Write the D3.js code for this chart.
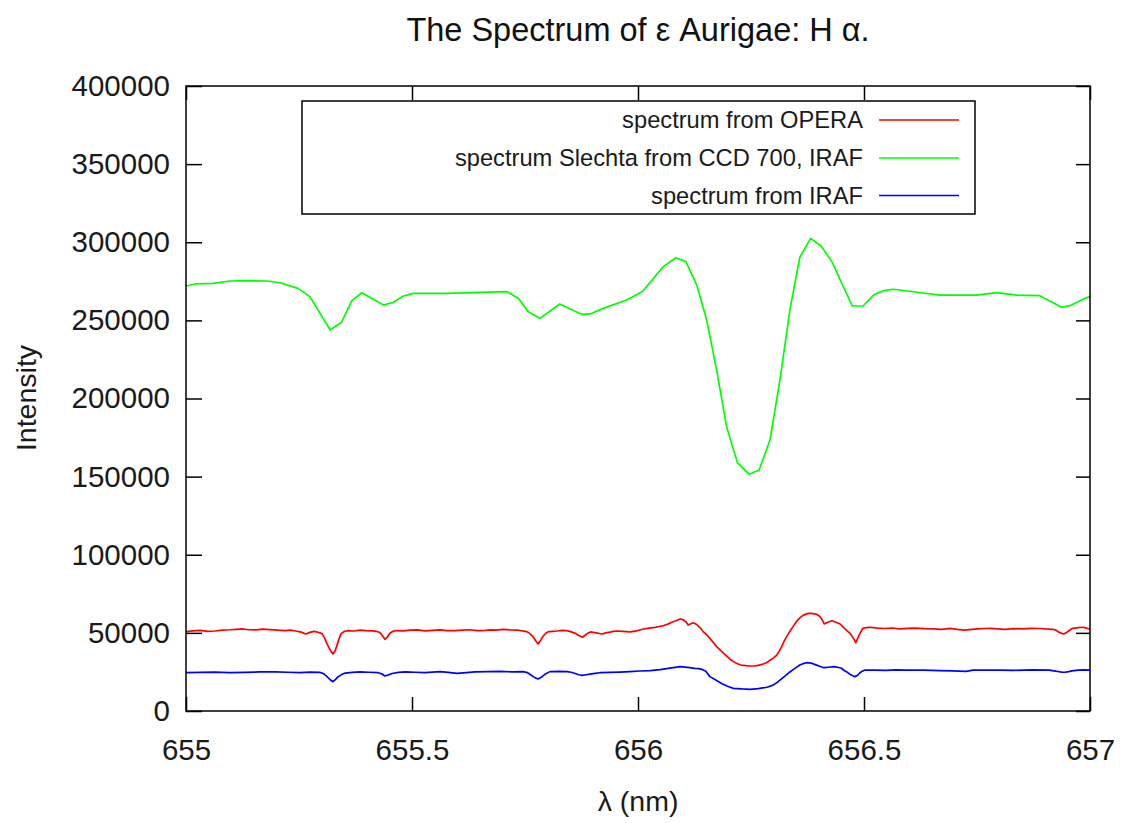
<!DOCTYPE html>
<html>
<head>
<meta charset="utf-8">
<script src="https://cdn.jsdelivr.net/npm/d3@7"></script>
<style>
  html, body { margin: 0; padding: 0; background: #fff; }
  svg { display: block; font-family: "Liberation Sans", Arial, sans-serif; }
</style>
</head>
<body>
<svg id="chart" width="1123" height="823"></svg>
<script>
// ---------------- data ----------------
const chartTitle = "The Spectrum of \u03b5 Aurigae: H \u03b1.";
const xLabel = "\u03bb (nm)";
const yLabel = "Intensity";

const xTicks = [655, 655.5, 656, 656.5, 657];
const xTickLabels = ["655", "655.5", "656", "656.5", "657"];
const yTicks = [0, 50000, 100000, 150000, 200000, 250000, 300000, 350000, 400000];
const yTickLabels = ["0", "50000", "100000", "150000", "200000", "250000", "300000", "350000", "400000"];

const seriesNames = ["spectrum from OPERA", "spectrum Slechta from CCD 700, IRAF", "spectrum from IRAF"];
const seriesColors = ["#ff0000", "#00ff00", "#0000ff"];

// spectrum from OPERA (red)
const operaLambda = [655.000, 655.015, 655.031, 655.048, 655.064, 655.080, 655.097, 655.112, 655.126, 655.140, 655.155, 655.170, 655.186, 655.203, 655.219, 655.232, 655.243, 655.255, 655.265, 655.274, 655.283, 655.292, 655.301, 655.307, 655.312, 655.319, 655.325, 655.330, 655.334, 655.339, 655.343, 655.350, 655.358, 655.371, 655.385, 655.398, 655.412, 655.421, 655.429, 655.435, 655.440, 655.446, 655.451, 655.458, 655.465, 655.480, 655.496, 655.512, 655.529, 655.545, 655.562, 655.578, 655.595, 655.612, 655.628, 655.645, 655.662, 655.674, 655.686, 655.701, 655.717, 655.735, 655.754, 655.761, 655.768, 655.774, 655.779, 655.785, 655.790, 655.796, 655.802, 655.812, 655.821, 655.832, 655.842, 655.851, 655.861, 655.869, 655.877, 655.883, 655.889, 655.895, 655.901, 655.910, 655.920, 655.929, 655.938, 655.945, 655.953, 655.967, 655.982, 655.997, 656.012, 656.025, 656.038, 656.047, 656.056, 656.066, 656.075, 656.084, 656.093, 656.098, 656.102, 656.107, 656.111, 656.117, 656.122, 656.128, 656.133, 656.139, 656.144, 656.152, 656.159, 656.167, 656.174, 656.185, 656.195, 656.203, 656.211, 656.220, 656.228, 656.238, 656.248, 656.256, 656.263, 656.270, 656.277, 656.285, 656.292, 656.300, 656.307, 656.313, 656.319, 656.324, 656.329, 656.336, 656.343, 656.350, 656.358, 656.365, 656.372, 656.377, 656.381, 656.388, 656.395, 656.400, 656.405, 656.409, 656.412, 656.420, 656.429, 656.438, 656.447, 656.452, 656.458, 656.464, 656.469, 656.476, 656.482, 656.486, 656.491, 656.495, 656.498, 656.505, 656.513, 656.530, 656.546, 656.563, 656.580, 656.597, 656.613, 656.633, 656.653, 656.672, 656.690, 656.706, 656.723, 656.738, 656.752, 656.766, 656.779, 656.796, 656.812, 656.832, 656.852, 656.870, 656.889, 656.903, 656.918, 656.924, 656.929, 656.936, 656.942, 656.948, 656.954, 656.958, 656.962, 656.974, 656.985, 656.993, 657.000];
const operaIntensity = [50800, 51300, 51600, 51000, 51200, 51800, 52000, 52300, 52500, 52000, 51900, 52400, 52100, 51700, 51500, 51800, 51200, 50500, 49300, 50300, 51000, 50400, 49500, 46500, 43000, 39000, 36500, 38500, 42000, 46500, 49500, 50900, 51400, 51200, 51800, 51500, 51300, 51000, 50200, 48000, 45900, 47500, 49800, 51000, 51500, 51300, 51700, 51900, 51300, 51600, 51900, 51400, 51500, 51800, 52000, 51500, 51600, 51900, 51800, 52200, 51900, 51700, 50800, 49500, 47500, 44800, 42900, 45500, 47800, 49800, 50800, 51000, 51200, 51600, 51400, 50800, 49700, 48300, 47200, 48500, 49800, 50600, 50300, 49800, 49300, 50000, 50500, 51000, 51200, 50900, 50600, 51300, 52500, 53000, 53500, 54100, 54600, 55600, 56800, 57800, 58900, 58600, 58000, 56800, 55000, 55800, 56500, 55700, 54500, 52800, 50800, 48800, 46500, 43700, 41200, 38200, 35500, 33300, 31600, 30200, 29400, 29000, 28800, 28800, 29000, 29500, 30100, 31000, 32500, 34000, 35800, 38500, 42000, 45000, 47600, 51000, 54000, 57000, 59600, 61200, 62000, 62500, 62500, 62300, 61900, 61000, 59500, 57500, 55700, 56800, 57800, 56800, 55700, 54300, 52500, 51000, 49700, 46800, 43700, 46500, 49500, 51800, 53000, 53400, 53600, 53000, 52800, 53100, 52500, 52900, 53100, 52700, 52500, 52300, 52900, 52200, 51800, 52300, 52600, 52800, 52900, 52600, 52300, 52700, 52500, 52900, 52800, 52500, 52300, 51800, 50800, 49800, 49300, 50200, 51500, 52400, 52900, 53300, 53600, 53000, 52300];

// spectrum Slechta from CCD 700, IRAF (green)
const slechtaLambda = [655.000, 655.020, 655.060, 655.097, 655.134, 655.179, 655.208, 655.248, 655.274, 655.319, 655.344, 655.367, 655.389, 655.437, 655.459, 655.481, 655.503, 655.577, 655.710, 655.735, 655.757, 655.783, 655.827, 655.875, 655.894, 655.923, 655.975, 656.010, 656.056, 656.084, 656.106, 656.130, 656.152, 656.174, 656.196, 656.220, 656.246, 656.268, 656.292, 656.314, 656.336, 656.358, 656.382, 656.405, 656.429, 656.474, 656.498, 656.521, 656.543, 656.565, 656.617, 656.668, 656.749, 656.794, 656.838, 656.889, 656.937, 656.956, 656.989, 657.000];
const slechtaIntensity = [272000, 273300, 273700, 275200, 275400, 275200, 274100, 270500, 265200, 243800, 248800, 262600, 267700, 259800, 261600, 265600, 267300, 267300, 268400, 264100, 255600, 251300, 260500, 253900, 254100, 257700, 263000, 268500, 284400, 290100, 287600, 272600, 250200, 218200, 182000, 158900, 151500, 154200, 173400, 211800, 256600, 290400, 302500, 297600, 287600, 259200, 259200, 266200, 269000, 269900, 268000, 266200, 266200, 267700, 266200, 265800, 258400, 259400, 264100, 265200];

// spectrum from IRAF (blue)
const irafLambda = [655.000, 655.032, 655.064, 655.097, 655.130, 655.163, 655.197, 655.225, 655.252, 655.275, 655.296, 655.305, 655.312, 655.319, 655.325, 655.331, 655.336, 655.344, 655.352, 655.368, 655.385, 655.405, 655.425, 655.433, 655.440, 655.448, 655.456, 655.470, 655.485, 655.507, 655.529, 655.545, 655.562, 655.580, 655.600, 655.620, 655.639, 655.667, 655.695, 655.720, 655.746, 655.755, 655.763, 655.771, 655.779, 655.787, 655.794, 655.805, 655.824, 655.843, 655.852, 655.861, 655.869, 655.877, 655.885, 655.894, 655.905, 655.916, 655.938, 655.960, 655.982, 656.004, 656.027, 656.049, 656.071, 656.093, 656.110, 656.126, 656.134, 656.142, 656.150, 656.159, 656.172, 656.186, 656.198, 656.211, 656.230, 656.248, 656.266, 656.285, 656.293, 656.301, 656.308, 656.314, 656.325, 656.336, 656.347, 656.358, 656.365, 656.373, 656.383, 656.392, 656.402, 656.411, 656.422, 656.434, 656.441, 656.449, 656.458, 656.464, 656.469, 656.475, 656.480, 656.486, 656.491, 656.496, 656.502, 656.525, 656.548, 656.571, 656.594, 656.631, 656.668, 656.697, 656.726, 656.741, 656.770, 656.800, 656.830, 656.870, 656.910, 656.920, 656.929, 656.937, 656.945, 656.953, 656.960, 656.974, 656.987, 657.000];
const irafIntensity = [24500, 24700, 24900, 24600, 24700, 25000, 25000, 24800, 24600, 24900, 24700, 23800, 22000, 20000, 18750, 20200, 21800, 23300, 24300, 24700, 25000, 24800, 24500, 23800, 22400, 23100, 24000, 24700, 25100, 24800, 24500, 24900, 25200, 24700, 24100, 24600, 25000, 25200, 25300, 25100, 25200, 24600, 23000, 21500, 20500, 21800, 23500, 25200, 25400, 25200, 24800, 24000, 23200, 22800, 23200, 23600, 24100, 24500, 24700, 24900, 25200, 25600, 25900, 26500, 27400, 28400, 27900, 27300, 27100, 26600, 25500, 22000, 19800, 17500, 15800, 14500, 14100, 13900, 14300, 15200, 15900, 17000, 18300, 19800, 22300, 25000, 27300, 29400, 30300, 30900, 30700, 29700, 28600, 27700, 28000, 28400, 28000, 27500, 25600, 24600, 23500, 22600, 22000, 22900, 24500, 25400, 26200, 26200, 26000, 26300, 26200, 26100, 25900, 25700, 25400, 26200, 26100, 26200, 26000, 26300, 26200, 25700, 25300, 24900, 24800, 25200, 25700, 26200, 26300, 26200];

// ---------------- layout ----------------
const W = 1123, H = 823;
const margin = { left: 186, right: W - 1090, top: 86, bottom: H - 711 };

const svg = d3.select("#chart");
const x = d3.scaleLinear().domain([655, 657]).range([margin.left, W - margin.right]);
const y = d3.scaleLinear().domain([0, 400000]).range([H - margin.bottom, margin.top]);

const tickFont = 29.5;

// Ticks (inward, mirrored)
const gAxes = svg.append("g");
gAxes.append("g")
  .attr("transform", `translate(0,${y(0)})`)
  .call(d3.axisBottom(x).tickValues(xTicks).tickSizeInner(-14).tickSizeOuter(0).tickPadding(28)
        .tickFormat((d, i) => xTickLabels[i]))
  .call(g => g.select(".domain").remove());
gAxes.append("g")
  .attr("transform", `translate(0,${y(400000)})`)
  .call(d3.axisTop(x).tickValues(xTicks).tickSizeInner(-14).tickSizeOuter(0).tickFormat(""))
  .call(g => g.select(".domain").remove());
gAxes.append("g")
  .attr("transform", `translate(${x(655)},0)`)
  .call(d3.axisLeft(y).tickValues(yTicks).tickSizeInner(-16).tickSizeOuter(0).tickPadding(16)
        .tickFormat((d, i) => yTickLabels[i]))
  .call(g => g.select(".domain").remove());
gAxes.append("g")
  .attr("transform", `translate(${x(657)},0)`)
  .call(d3.axisRight(y).tickValues(yTicks).tickSizeInner(-14).tickSizeOuter(0).tickFormat(""))
  .call(g => g.select(".domain").remove());

gAxes.selectAll(".tick line").attr("stroke", "#000").attr("stroke-width", 1.5);
gAxes.selectAll(".tick text")
  .attr("fill", "#1a1a1a")
  .style("font-family", "'Liberation Sans', Arial, sans-serif")
  .style("font-size", tickFont + "px");

// Series
const lineGen = d3.line().x(d => x(d[0])).y(d => y(d[1]));
const series = [
  { lam: operaLambda, val: operaIntensity, color: seriesColors[0] },
  { lam: slechtaLambda, val: slechtaIntensity, color: seriesColors[1] },
  { lam: irafLambda, val: irafIntensity, color: seriesColors[2] }
];
const gLines = svg.append("g");
series.forEach(s => {
  const pts = s.lam.map((l, i) => [l, s.val[i]]);
  gLines.append("path")
    .datum(pts)
    .attr("fill", "none")
    .attr("stroke", s.color)
    .attr("stroke-width", 1.7)
    .attr("stroke-linejoin", "round")
    .attr("d", lineGen);
});

// Frame
svg.append("rect")
  .attr("x", x(655)).attr("y", y(400000))
  .attr("width", x(657) - x(655)).attr("height", y(0) - y(400000))
  .attr("fill", "none").attr("stroke", "#000").attr("stroke-width", 1.5);

// Legend
const legend = svg.append("g");
legend.append("rect")
  .attr("x", 302).attr("y", 101).attr("width", 673).attr("height", 113)
  .attr("fill", "#fff").attr("stroke", "#000").attr("stroke-width", 1.5);
const rowY = [120, 158, 195.5];
seriesNames.forEach((name, i) => {
  legend.append("text")
    .attr("x", 863).attr("y", rowY[i])
    .attr("dy", "0.35em")
    .attr("text-anchor", "end")
    .attr("fill", "#1a1a1a")
    .style("font-size", "23.7px")
    .text(name);
  legend.append("line")
    .attr("x1", 879).attr("x2", 959)
    .attr("y1", rowY[i]).attr("y2", rowY[i])
    .attr("stroke", seriesColors[i]).attr("stroke-width", 1.7);
});

// Title & axis labels
svg.append("text")
  .attr("x", 638).attr("y", 41)
  .attr("text-anchor", "middle")
  .attr("fill", "#111")
  .style("font-size", "32.5px")
  .text(chartTitle);

svg.append("text")
  .attr("x", 638).attr("y", 811)
  .attr("text-anchor", "middle")
  .attr("fill", "#1a1a1a")
  .style("font-size", "28.5px")
  .text(xLabel);

svg.append("text")
  .attr("transform", `translate(36,398) rotate(-90)`)
  .attr("text-anchor", "middle")
  .attr("fill", "#1a1a1a")
  .style("font-size", "28.5px")
  .text(yLabel);
</script>
</body>
</html>
